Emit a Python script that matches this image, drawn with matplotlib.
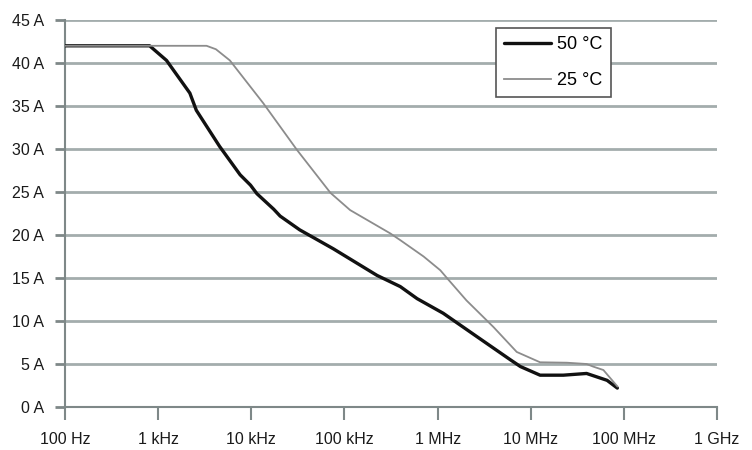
import matplotlib
matplotlib.use("Agg")
import matplotlib.pyplot as plt

# ---- data ----
freq_50 = [1e2, 8.1e2, 1.23e3, 2.19e3, 2.57e3, 4.57e3, 7.59e3, 9.8e3, 1.15e4,
           1.74e4, 2.04e4, 3.31e4, 7.59e4, 2.24e5, 3.98e5, 6.03e5, 1.15e6,
           2.63e6, 6.03e6, 7.76e6, 1.26e7, 2.24e7, 3.98e7, 6.61e7, 8.51e7]
amp_50 = [42.0, 42.0, 40.3, 36.5, 34.5, 30.3, 27.0, 25.8, 24.8,
          23.0, 22.2, 20.6, 18.4, 15.3, 14.0, 12.6, 10.9,
          8.2, 5.5, 4.7, 3.7, 3.7, 3.9, 3.1, 2.2]

freq_25 = [1e2, 3.31e3, 4.17e3, 5.89e3, 1.35e4, 3.09e4, 7.08e4, 1.15e5,
           3.09e5, 3.98e5, 7.08e5, 1.07e6, 1.26e6, 2.04e6, 3.98e6, 7.08e6,
           1.26e7, 2.45e7, 3.98e7, 4.68e7, 6.03e7, 8.51e7]
amp_25 = [42.0, 42.0, 41.6, 40.3, 35.3, 29.9, 24.9, 22.9,
          20.2, 19.4, 17.5, 15.9, 15.0, 12.4, 9.3, 6.4,
          5.2, 5.15, 5.0, 4.7, 4.3, 2.4]

x_ticks = [1e2, 1e3, 1e4, 1e5, 1e6, 1e7, 1e8, 1e9]
x_labels = ["100 Hz", "1 kHz", "10 kHz", "100 kHz", "1 MHz", "10 MHz", "100 MHz", "1 GHz"]
y_ticks = [0, 5, 10, 15, 20, 25, 30, 35, 40, 45]
y_labels = [f"{v} A" for v in y_ticks]
series_labels = ["50 °C", "25 °C"]

plt.rcParams["font.family"] = ["Liberation Sans", "DejaVu Sans"]

fig = plt.figure(figsize=(7.52, 4.5), dpi=100)
ax = fig.add_axes([65 / 752, 1 - 407 / 450, (717 - 65) / 752, (407 - 20) / 450])

grid_c = "#a3adad"
axis_c = "#7e8888"

ax.set_xscale("log")
ax.set_xlim(1e2, 1e9)
ax.set_ylim(0, 45)

for y in y_ticks[1:]:
    ax.axhline(y, color=grid_c, lw=2.0, zorder=1)

ax.plot(freq_50, amp_50, color="#111111", lw=2.4, zorder=3,
        solid_capstyle="round", solid_joinstyle="round", label=series_labels[0])
ax.plot(freq_25, amp_25, color="#8c8c8c", lw=1.3, zorder=3,
        solid_joinstyle="round", label=series_labels[1])

ax.set_xticks(x_ticks)
ax.set_xticklabels(x_labels)
ax.minorticks_off()
ax.set_yticks(y_ticks)
ax.set_yticklabels(y_labels)

for s in ["top", "right"]:
    ax.spines[s].set_visible(False)
ax.spines["left"].set_color(axis_c)
ax.spines["bottom"].set_color(axis_c)
ax.spines["left"].set_linewidth(1.5)
ax.spines["bottom"].set_linewidth(1.5)

ax.tick_params(axis="both", colors=axis_c, labelcolor="#1a1a1a", labelsize=11.5)
ax.tick_params(axis="y", length=7, width=2.0, pad=8)
ax.tick_params(axis="x", length=9, width=1.5, pad=9)

leg = ax.legend(loc="upper left", bbox_to_anchor=((496 - 65) / 652, 1 - 8 / 387),
                frameon=True, fancybox=False, fontsize=13, handlelength=2.6,
                handletextpad=0.35, labelspacing=1.05, borderpad=0.45,
                borderaxespad=0.0)
leg.get_frame().set_edgecolor("#555555")
leg.get_frame().set_linewidth(1.2)
leg.get_frame().set_alpha(1.0)
leg.set_zorder(5)

fig.savefig("out.png", dpi=100)
